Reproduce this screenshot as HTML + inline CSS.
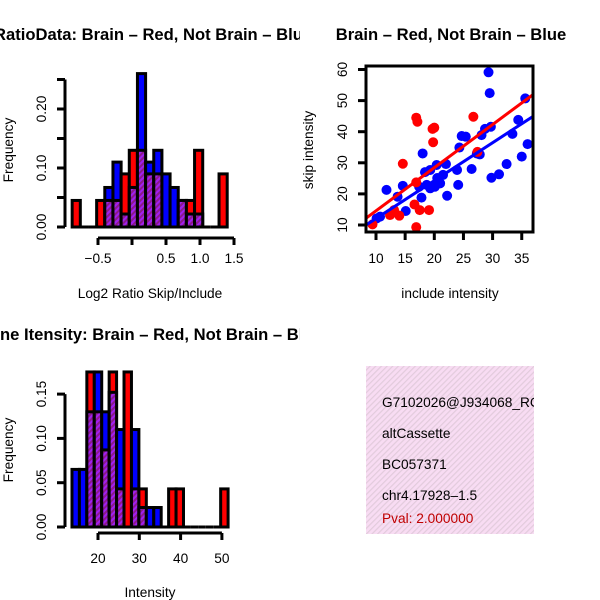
<!DOCTYPE html>
<html><head><meta charset="utf-8"><style>
body{margin:0;background:#fff}
svg{display:block;font-family:"Liberation Sans",sans-serif}
</style></head><body>
<svg id="c" width="600" height="600" viewBox="0 0 600 600">
<defs>
<pattern id="hatchP" width="4" height="4" patternUnits="userSpaceOnUse" patternTransform="rotate(45)">
<rect width="4" height="4" fill="#a020f0"/><rect width="2" height="4" fill="#8b1a8b"/></pattern>
<pattern id="pinkP" width="4" height="4" patternUnits="userSpaceOnUse" patternTransform="rotate(45)">
<rect width="4" height="4" fill="#f8dcf3"/><rect width="1.2" height="4" fill="#e2cbdc"/></pattern>
<clipPath id="clipL"><rect x="0" y="0" width="300" height="600"/></clipPath>
<clipPath id="clipBox"><rect x="366" y="366" width="168" height="168"/></clipPath>
</defs>
<g id="g1"></g>
<g id="g2"></g>
<g id="g3"></g>
<g>
<rect x="366" y="366" width="168" height="168" fill="url(#pinkP)"/>
<g clip-path="url(#clipBox)" font-size="13.7">
<text x="382" y="407">G7102026@J934068_RC</text>
<text x="382" y="438">altCassette</text>
<text x="382" y="469">BC057371</text>
<text x="382" y="500">chr4.17928&#8211;1.5</text>
<text x="382" y="523" fill="#c00000">Pval: 2.000000</text>
</g></g>
</svg>
<script>
// ---- Histogram 1 data (bins start/width in log2 ratio units) ----
const h1Start = -0.88;
const h1Width = 0.12;
const h1Red  = [0.045,0,0,0.045,0.045,0.045,0.09,0.13,0.13,0.09,0.09,0,0,0.045,0.045,0.13,0,0,0.09];
const h1Blue = [0,0,0,0,0.067,0.11,0.022,0.067,0.26,0.11,0.13,0.09,0.067,0.045,0.022,0.022,0,0,0];
const h1XTicks = [-0.5,0,0.5,1.0,1.5];
const h1XLabels = ["\u22120.5","","0.5","1.0","1.5"];
const h1YTicks = [0,0.05,0.10,0.15,0.20,0.25];
const h1YLabels = ["0.00","","0.10","","0.20",""];
// ---- Histogram 2 data ----
const h2Start = 13.7;
const h2Width = 1.8;
const h2Red  = [0,0,0.175,0.13,0.087,0.175,0.043,0.175,0.043,0.043,0,0,0,0.043,0.043,0,0,0,0,0,0.043];
const h2Blue = [0.065,0.065,0.13,0.175,0.13,0.152,0.11,0,0.11,0.022,0.022,0.022,0,0,0,0,0,0,0,0,0];
const h2XTicks = [20,30,40,50];
const h2XLabels = ["20","30","40","50"];
const h2YTicks = [0,0.05,0.10,0.15];
const h2YLabels = ["0.00","0.05","0.10","0.15"];
// ---- Scatter data ----
const blueX = [29.3,29.5,35.6,34.4,33.4,36.0,35.0,32.4,31.1,29.8,28.1,29.7,24.7,25.4,24.3,22.0,20.4,18.0,18.4,19.3,20.5,21.0,21.5,18.7,19.3,20.1,17.4,17.8,14.6,13.7,11.8,10.7,10.1,15.1,22.2,24.1,23.9,26.4,27.3,27.8,28.7];
const blueY = [59.1,52.4,50.7,43.8,39.3,36.0,32.0,29.6,26.3,25.2,38.9,41.6,38.6,38.4,34.9,29.6,29.3,33.0,27.0,27.7,25.1,23.4,26.1,22.9,21.8,22.3,22.3,18.8,22.6,19.1,21.3,12.7,12.1,14.5,19.4,22.9,27.7,28.0,33.0,32.7,40.9];
const redX = [16.9,17.1,19.7,20.0,19.8,14.6,26.7,16.9,16.6,17.5,19.1,14.0,13.1,12.4,9.4,16.9,27.4];
const redY = [44.5,43.2,40.9,41.3,36.6,29.7,44.8,23.7,16.6,14.8,14.8,13.0,14.8,13.2,10.2,9.3,33.5];
const redFit = [0.69,1.387];   // intercept, slope
const blueFit = [-0.12,1.2195];
const scXTicks = [10,15,20,25,30,35];
const scYTicks = [10,20,30,40,50,60];

const NS="http://www.w3.org/2000/svg";
const FS=13.7, TS=16.6;
function mk(parent,tag,attrs){const e=document.createElementNS(NS,tag);for(const k in attrs)e.setAttribute(k,attrs[k]);parent.appendChild(e);return e;}

function hist(g,start,width,red,blue,sx,sy,baseY,name){
  for(let i=0;i<red.length;i++){
    const x0=sx(start+i*width),x1=sx(start+(i+1)*width);
    const r=red[i],b=blue[i],mx=Math.max(r,b),mn=Math.min(r,b);
    if(mx<=0){const l=mk(g,'line',{x1:x0,x2:x1,y1:baseY,y2:baseY,stroke:'#000','stroke-width':3});
      
      continue;}
    const top=mk(g,'rect',{x:x0,y:sy(mx),width:x1-x0,height:sy(0)-sy(mx),fill:r>=b?'#ff0000':'#0000ff',stroke:'#000','stroke-width':3});
    
    
    if(mn>0){const o=mk(g,'rect',{x:x0,y:sy(mn),width:x1-x0,height:sy(0)-sy(mn),fill:'url(#hatchP)',stroke:'#000','stroke-width':3});
      
      }
  }
}
function txt(g,x,y,s,attrs,name){const t=mk(g,'text',Object.assign({x:x,y:y},attrs||{}));t.textContent=s;
  
  return t;}

// ---- Panel 1 ----
(function(){
 const g=document.getElementById('g1');
 const sx=v=>132+(v)*68, sy=v=>227-v*590;
 hist(g,h1Start,h1Width,h1Red,h1Blue,sx,sy,227,'ratio');
 mk(g,'line',{x1:65,x2:65,y1:sy(0),y2:sy(0.25),stroke:'#000','stroke-width':3});
 h1YTicks.forEach((v,i)=>{mk(g,'line',{x1:57,x2:65,y1:sy(v),y2:sy(v),stroke:'#000','stroke-width':3});
   if(h1YLabels[i])txt(g,46,sy(v),h1YLabels[i],{'font-size':FS,'text-anchor':'middle',transform:`rotate(-90 46 ${sy(v)})`},'y-tick-label');});
 mk(g,'line',{x1:sx(-0.5),x2:sx(1.5),y1:238,y2:238,stroke:'#000','stroke-width':3});
 h1XTicks.forEach((v,i)=>{mk(g,'line',{x1:sx(v),x2:sx(v),y1:238,y2:245,stroke:'#000','stroke-width':3});
   if(h1XLabels[i])txt(g,sx(v),263,h1XLabels[i],{'font-size':FS,'text-anchor':'middle'},'x-tick-label');});
 txt(g,150,298,'Log2 Ratio Skip/Include',{'font-size':FS,'text-anchor':'middle'},'x-axis-title');
 txt(g,13,150,'Frequency',{'font-size':FS,'text-anchor':'middle',transform:'rotate(-90 13 150)'},'y-axis-title');
 const cg=mk(g,'g',{'clip-path':'url(#clipL)'});
 txt(cg,-6,40,'RatioData: Brain \u2013 Red, Not Brain \u2013 Blue',{'font-size':TS,'font-weight':'bold'},'chart-title');
})();

// ---- Panel 3 ----
(function(){
 const g=document.getElementById('g3');
 const sx=v=>98+(v-20)*4.13, sy=v=>527-v*886;
 hist(g,h2Start,h2Width,h2Red,h2Blue,sx,sy,527,'intensity');
 mk(g,'line',{x1:65,x2:65,y1:sy(0),y2:sy(0.15),stroke:'#000','stroke-width':3});
 h2YTicks.forEach((v,i)=>{mk(g,'line',{x1:57,x2:65,y1:sy(v),y2:sy(v),stroke:'#000','stroke-width':3});
   txt(g,46,sy(v),h2YLabels[i],{'font-size':FS,'text-anchor':'middle',transform:`rotate(-90 46 ${sy(v)})`},'y-tick-label');});
 mk(g,'line',{x1:sx(20),x2:sx(50),y1:533,y2:533,stroke:'#000','stroke-width':3});
 h2XTicks.forEach((v,i)=>{mk(g,'line',{x1:sx(v),x2:sx(v),y1:533,y2:540,stroke:'#000','stroke-width':3});
   txt(g,sx(v),563,h2XLabels[i],{'font-size':FS,'text-anchor':'middle'},'x-tick-label');});
 txt(g,150,597,'Intensity',{'font-size':FS,'text-anchor':'middle'},'x-axis-title');
 txt(g,13,450,'Frequency',{'font-size':FS,'text-anchor':'middle',transform:'rotate(-90 13 450)'},'y-axis-title');
 const cg=mk(g,'g',{'clip-path':'url(#clipL)'});
 txt(cg,0,340,'ne Itensity: Brain \u2013 Red, Not Brain \u2013 Blue',{'font-size':TS,'font-weight':'bold'},'chart-title');
})();

// ---- Scatter ----
(function(){
 const g=document.getElementById('g2');
 const sx=v=>376+(v-10)*5.83, sy=v=>225-(v-10)*3.11;
 const cp=mk(g,'clipPath',{id:'clipS'});mk(cp,'rect',{x:366,y:66,width:167,height:166});
 const pg=mk(g,'g',{'clip-path':'url(#clipS)'});
 blueX.forEach((x,i)=>{const c=mk(pg,'circle',{cx:sx(x),cy:sy(blueY[i]),r:5,fill:'#0000ff'});
   
   });
 redX.forEach((x,i)=>{const c=mk(pg,'circle',{cx:sx(x),cy:sy(redY[i]),r:5,fill:'#ff0000'});
   
   });
 const bl=mk(pg,'line',{x1:sx(5),y1:sy(blueFit[0]+blueFit[1]*5),x2:sx(40),y2:sy(blueFit[0]+blueFit[1]*40),stroke:'#0000ff','stroke-width':3});
 
 
 const rl=mk(pg,'line',{x1:sx(5),y1:sy(redFit[0]+redFit[1]*5),x2:sx(40),y2:sy(redFit[0]+redFit[1]*40),stroke:'#ff0000','stroke-width':3});
 
 
 mk(g,'rect',{x:366,y:66,width:167,height:166,fill:'none',stroke:'#000','stroke-width':3});
 scXTicks.forEach(v=>{mk(g,'line',{x1:sx(v),x2:sx(v),y1:232,y2:240,stroke:'#000','stroke-width':3});
   txt(g,sx(v),263,String(v),{'font-size':FS,'text-anchor':'middle'},'x-tick-label');});
 scYTicks.forEach(v=>{mk(g,'line',{x1:358,x2:366,y1:sy(v),y2:sy(v),stroke:'#000','stroke-width':3});
   txt(g,347,sy(v),String(v),{'font-size':FS,'text-anchor':'middle',transform:`rotate(-90 347 ${sy(v)})`},'y-tick-label');});
 txt(g,450,298,'include intensity',{'font-size':FS,'text-anchor':'middle'},'x-axis-title');
 txt(g,313,150,'skip intensity',{'font-size':FS,'text-anchor':'middle',transform:'rotate(-90 313 150)'},'y-axis-title');
 txt(g,451,40,'Brain \u2013 Red, Not Brain \u2013 Blue',{'font-size':TS,'font-weight':'bold','text-anchor':'middle'},'chart-title');
})();
</script>
</body></html>
